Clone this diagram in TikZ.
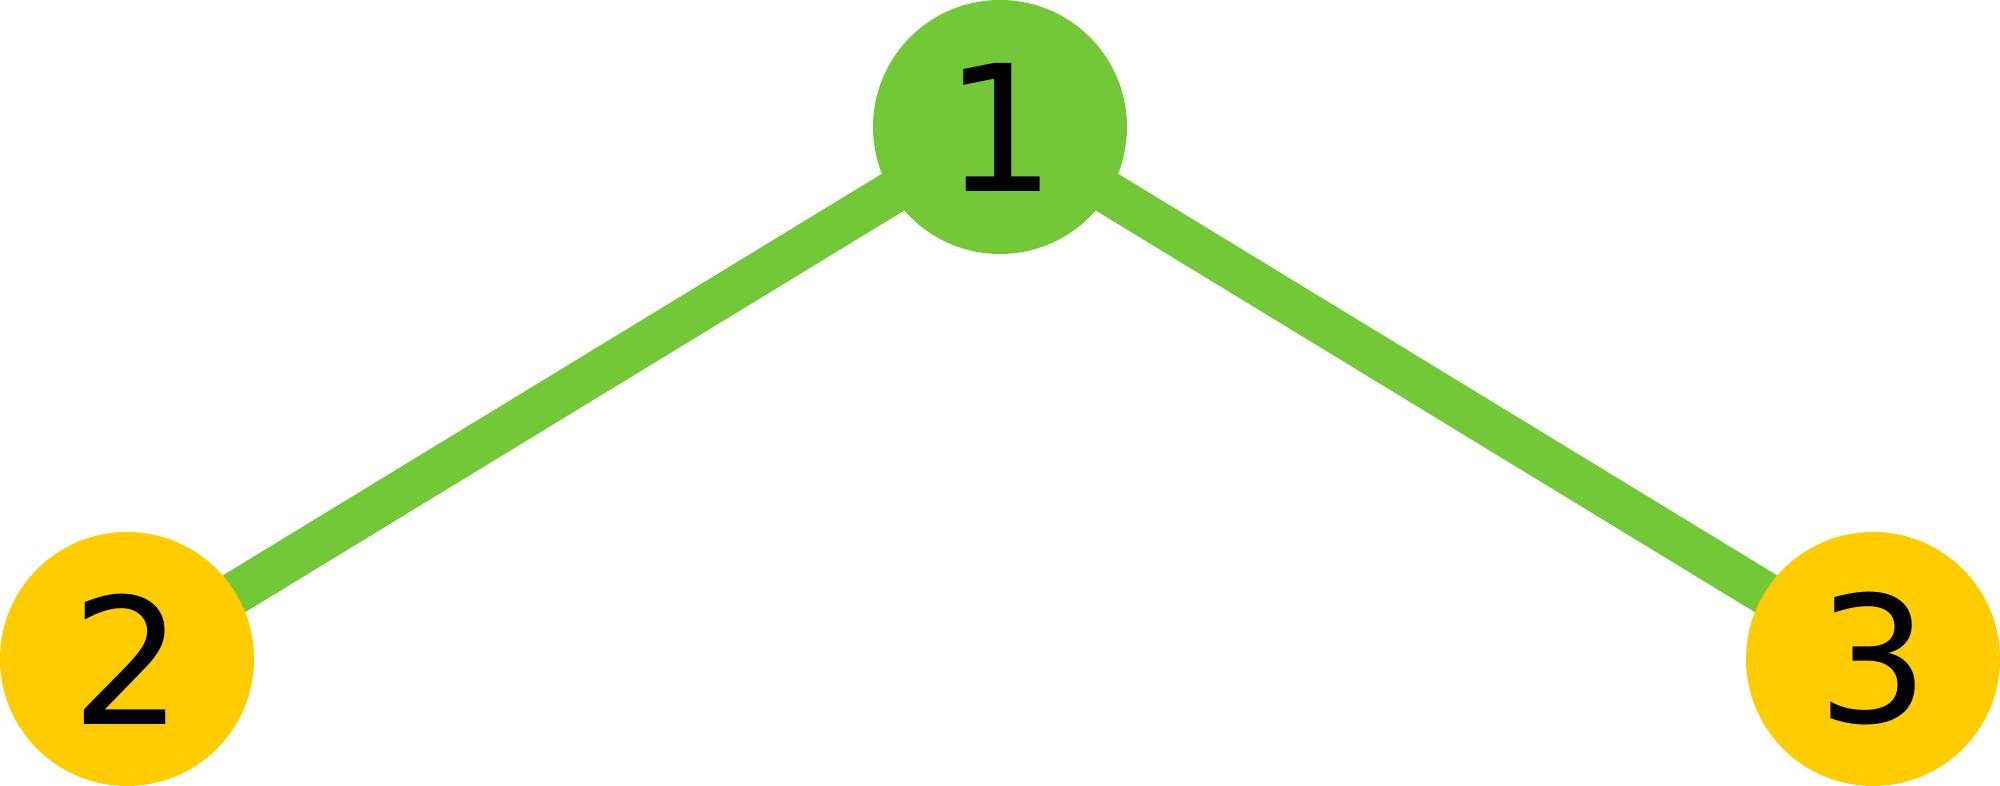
\documentclass[tikz,border=0pt]{standalone}
\usepackage{fontspec}
\setmainfont{DejaVu Sans}
\usetikzlibrary{backgrounds}
\definecolor{leafgreen}{RGB}{114,200,55}
\definecolor{sunyellow}{RGB}{255,204,0}

\begin{document}
\begin{tikzpicture}[
    vert/.style={circle, inner sep=0pt, minimum size=2.54cm, font=\fontsize{50}{60}\selectfont},
    link/.style={leafgreen, line width=0.43cm}]
    \useasboundingbox (0,0) rectangle (20,7.86);
    \node[vert, fill=leafgreen] (v1) at (10,6.59) {1};
    \node[vert, fill=sunyellow] (v2) at (1.27,1.27) {2};
    \node[vert, fill=sunyellow] (v3) at (18.73,1.27) {3};
    \begin{scope}[on background layer]
      \draw[link] (v1.center) -- (v2.center);
      \draw[link] (v1.center) -- (v3.center);
    \end{scope}
  \end{tikzpicture}
\end{document}
